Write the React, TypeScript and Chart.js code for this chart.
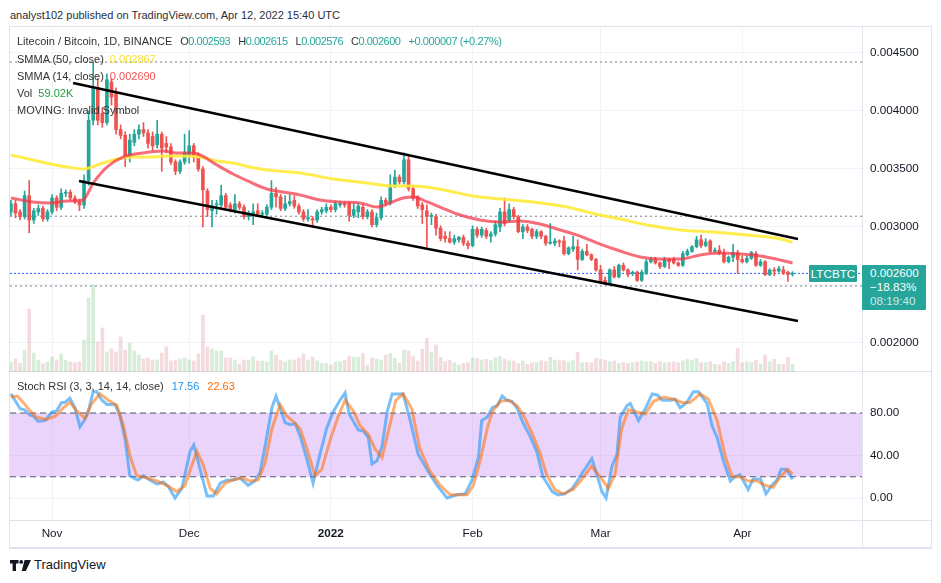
import { useEffect, useRef } from "react";
import { Chart, registerables } from "chart.js";
Chart.register(...registerables);

// ---------- axis / ticks ----------
const monthTicks = [9, 39, 70, 101, 129, 160];
const monthLabels = ["Nov", "Dec", "2022", "Feb", "Mar", "Apr"];
const priceTicks = [0.002, 0.0025, 0.003, 0.0035, 0.004, 0.0045];
const stochTicks = [0, 40, 80];
const X_MIN = -0.2;
const X_MAX = 186.2;
const PRICE_MIN = 0.00175;
const PRICE_MAX = 0.004724;
const VOL_MAX = 2657;
const STOCH_MIN = -20.7;
const STOCH_MAX = 118.6;

// ---------- candles (daily, Oct 23 2021 -> Apr 12 2022) ----------
const opens = [
  0.00313, 0.0032, 0.00313, 0.00309, 0.00327, 0.00306, 0.00313, 0.00316, 0.00307, 0.00313,
  0.00325, 0.00317, 0.00329, 0.0033, 0.00325, 0.00322, 0.00319, 0.0034, 0.00392, 0.0042,
  0.00398, 0.0039, 0.00425, 0.00415, 0.00384, 0.00379, 0.0036, 0.00373, 0.0038, 0.00384,
  0.00381, 0.00378, 0.00371, 0.0038, 0.00372, 0.00369, 0.00356, 0.00348, 0.00356, 0.00362,
  0.0037, 0.00362, 0.0035, 0.00331, 0.00314, 0.00319, 0.00319, 0.00327, 0.00319, 0.00315,
  0.0032, 0.00317, 0.00309, 0.00311, 0.00314, 0.00311, 0.00311, 0.00317, 0.00329, 0.00326,
  0.00316, 0.0032, 0.00323, 0.00318, 0.00313, 0.00307, 0.00307, 0.00306, 0.00313, 0.00314,
  0.00317, 0.00315, 0.00319, 0.0032, 0.0032, 0.0031, 0.00313, 0.00317, 0.00309, 0.00313,
  0.00302, 0.00308, 0.00323, 0.00321, 0.00336, 0.00343, 0.00339, 0.00358, 0.00333, 0.00326,
  0.00319, 0.00314, 0.00309, 0.00309, 0.00299, 0.00292, 0.0029, 0.00287, 0.00289, 0.00291,
  0.00286, 0.00284, 0.00298, 0.00293, 0.00297, 0.00292, 0.00294, 0.003, 0.00313, 0.00306,
  0.00315, 0.00309, 0.00296, 0.003, 0.00298, 0.00292, 0.00296, 0.00292, 0.00286, 0.00286,
  0.00288, 0.00288, 0.00277, 0.00281, 0.00283, 0.00272, 0.00279, 0.00276, 0.00272, 0.00263,
  0.00254, 0.00251, 0.00263, 0.00257, 0.00267, 0.00263, 0.0026, 0.00261, 0.00254, 0.0026,
  0.0027, 0.00272, 0.00269, 0.00266, 0.00272, 0.00272, 0.00269, 0.00267, 0.00276, 0.00279,
  0.00283, 0.00289, 0.00284, 0.00288, 0.00279, 0.0028, 0.00277, 0.0027, 0.00274, 0.00278,
  0.00272, 0.0027, 0.00273, 0.00277, 0.00267, 0.0027, 0.00259, 0.00263, 0.00262, 0.00263,
  0.00261, 0.002593,
];
const highs = [
  0.00323, 0.00323, 0.00315, 0.00331, 0.0034, 0.00316, 0.00319, 0.00318, 0.00315, 0.00328,
  0.00327, 0.00333, 0.00332, 0.00332, 0.00327, 0.00324, 0.00345, 0.004, 0.00442, 0.00428,
  0.00403, 0.00432, 0.00428, 0.0042, 0.00388, 0.00382, 0.0038, 0.00384, 0.00388, 0.0039,
  0.00384, 0.00382, 0.00392, 0.00382, 0.00378, 0.00372, 0.00358, 0.00358, 0.0038, 0.00383,
  0.00372, 0.00364, 0.00352, 0.00333, 0.00323, 0.00323, 0.00336, 0.00329, 0.00321, 0.00328,
  0.00322, 0.00319, 0.00314, 0.0032, 0.0032, 0.00314, 0.00319, 0.0034, 0.00334, 0.00328,
  0.00327, 0.00328, 0.00327, 0.0032, 0.00315, 0.00315, 0.00309, 0.00315, 0.00317, 0.0032,
  0.00319, 0.00322, 0.00322, 0.00322, 0.00322, 0.0032, 0.0032, 0.00319, 0.00315, 0.00315,
  0.00312, 0.00326, 0.00325, 0.00345, 0.00349, 0.00345, 0.00364, 0.00362, 0.00336, 0.00327,
  0.00321, 0.00319, 0.00312, 0.00311, 0.00301, 0.00296, 0.00296, 0.00293, 0.00292, 0.00293,
  0.00288, 0.00301, 0.003, 0.003, 0.00299, 0.00296, 0.00305, 0.00316, 0.00325, 0.0032,
  0.00317, 0.0031, 0.00302, 0.00302, 0.00299, 0.00298, 0.00297, 0.00293, 0.00303, 0.0029,
  0.00289, 0.00292, 0.00283, 0.00292, 0.00289, 0.00281, 0.00285, 0.00277, 0.00273, 0.00267,
  0.00257, 0.00264, 0.00266, 0.00268, 0.00269, 0.00264, 0.00262, 0.00262, 0.00263, 0.00272,
  0.00274, 0.00274, 0.0027, 0.00274, 0.00273, 0.00274, 0.0027, 0.00279, 0.00281, 0.00284,
  0.00292, 0.00293, 0.0029, 0.00289, 0.00282, 0.00284, 0.00281, 0.00275, 0.00285, 0.0028,
  0.00275, 0.00275, 0.00279, 0.00279, 0.00272, 0.00271, 0.00264, 0.00265, 0.00266, 0.00266,
  0.00262, 0.002615,
];
const lows = [
  0.0031, 0.00308, 0.00306, 0.00307, 0.00295, 0.00303, 0.0031, 0.00305, 0.00305, 0.00311,
  0.00314, 0.00315, 0.00326, 0.00323, 0.0032, 0.00314, 0.00316, 0.00336, 0.00388, 0.00388,
  0.00386, 0.00388, 0.00405, 0.0038, 0.00376, 0.00352, 0.00356, 0.0037, 0.00376, 0.00378,
  0.00368, 0.00366, 0.00368, 0.00348, 0.00364, 0.00354, 0.00345, 0.00346, 0.00354, 0.00355,
  0.00356, 0.00348, 0.003, 0.00309, 0.003, 0.00311, 0.00317, 0.00315, 0.00313, 0.00312,
  0.00315, 0.00307, 0.00306, 0.00302, 0.00309, 0.00309, 0.00309, 0.00315, 0.00317, 0.00314,
  0.00314, 0.00318, 0.00316, 0.00311, 0.00305, 0.00305, 0.003, 0.00304, 0.00311, 0.00312,
  0.00313, 0.00313, 0.00317, 0.00317, 0.00305, 0.00308, 0.00308, 0.00307, 0.00307, 0.003,
  0.003, 0.00306, 0.00319, 0.00319, 0.00334, 0.00337, 0.00337, 0.00331, 0.00323, 0.00316,
  0.00303, 0.00283, 0.00302, 0.00293, 0.00288, 0.00287, 0.00286, 0.00285, 0.00287, 0.00284,
  0.00281, 0.00283, 0.00291, 0.00291, 0.0029, 0.00287, 0.00292, 0.00296, 0.00301, 0.00304,
  0.00307, 0.00295, 0.0029, 0.00295, 0.0029, 0.0029, 0.0029, 0.00284, 0.00285, 0.00284,
  0.00283, 0.00276, 0.00276, 0.00279, 0.00263, 0.00271, 0.00275, 0.00271, 0.00262, 0.00251,
  0.0025, 0.0025, 0.00256, 0.00256, 0.00262, 0.00257, 0.00258, 0.00253, 0.00253, 0.00259,
  0.00269, 0.00268, 0.00264, 0.00265, 0.00264, 0.00268, 0.00266, 0.00266, 0.00275, 0.00278,
  0.00282, 0.00282, 0.00283, 0.00278, 0.00278, 0.00276, 0.00269, 0.00269, 0.0027, 0.0026,
  0.00269, 0.00269, 0.00272, 0.00266, 0.00266, 0.00258, 0.00258, 0.00258, 0.00261, 0.00259,
  0.00253, 0.002576,
];
const closes = [
  0.0032, 0.00312, 0.00309, 0.00327, 0.00306, 0.00314, 0.00316, 0.00307, 0.00313, 0.00325,
  0.00317, 0.00329, 0.0033, 0.00325, 0.00322, 0.00319, 0.0034, 0.00392, 0.0042, 0.00392,
  0.0039, 0.00427, 0.00412, 0.00384, 0.00379, 0.0036, 0.00375, 0.0038, 0.00384, 0.00381,
  0.00372, 0.0037, 0.0038, 0.00368, 0.00369, 0.00356, 0.00348, 0.00356, 0.00364, 0.0037,
  0.0036, 0.0035, 0.00332, 0.00315, 0.00318, 0.0032, 0.00327, 0.00317, 0.00315, 0.0032,
  0.00317, 0.00309, 0.00312, 0.00313, 0.00311, 0.00312, 0.00317, 0.00329, 0.00326, 0.00316,
  0.0032, 0.00322, 0.00318, 0.00313, 0.00307, 0.00308, 0.00306, 0.00313, 0.00315, 0.00317,
  0.00315, 0.0032, 0.0032, 0.00319, 0.0031, 0.00315, 0.00318, 0.00309, 0.00313, 0.00302,
  0.00308, 0.00323, 0.00321, 0.00336, 0.00343, 0.00339, 0.00358, 0.00333, 0.00325, 0.00318,
  0.00315, 0.00309, 0.0031, 0.00299, 0.0029, 0.0029, 0.00287, 0.0029, 0.00291, 0.00286,
  0.00284, 0.00298, 0.00293, 0.00298, 0.00292, 0.00294, 0.00302, 0.00313, 0.00303, 0.00315,
  0.00309, 0.00296, 0.003, 0.00297, 0.00292, 0.00296, 0.00292, 0.00286, 0.00287, 0.00288,
  0.00287, 0.00277, 0.00282, 0.00283, 0.00272, 0.00279, 0.00276, 0.00272, 0.00263, 0.00253,
  0.00251, 0.00263, 0.00257, 0.00267, 0.00263, 0.00259, 0.00261, 0.00254, 0.00261, 0.0027,
  0.00272, 0.00269, 0.00266, 0.00272, 0.0027, 0.00269, 0.00267, 0.00277, 0.00279, 0.00283,
  0.00289, 0.00284, 0.00287, 0.00279, 0.0028, 0.00277, 0.0027, 0.00274, 0.00278, 0.00272,
  0.0027, 0.00273, 0.00278, 0.00267, 0.0027, 0.00259, 0.00263, 0.00262, 0.00264, 0.0026,
  0.00259, 0.0026,
];
// volume in thousands
const volumes = [
  77, 100, 69, 169, 485, 146, 92, 62, 77, 116,
  92, 139, 92, 77, 69, 77, 246, 570, 670, 231,
  339, 154, 177, 154, 270, 169, 223, 162, 131, 100,
  108, 92, 92, 146, 193, 85, 92, 100, 108, 92,
  85, 139, 439, 193, 177, 162, 162, 108, 108, 92,
  62, 92, 92, 116, 85, 85, 77, 162, 131, 92,
  77, 92, 92, 108, 139, 92, 116, 85, 67, 67,
  54, 75, 80, 92, 123, 113, 113, 144, 54, 108,
  100, 92, 131, 144, 105, 67, 169, 162, 118, 85,
  175, 259, 152, 208, 113, 80, 92, 72, 54, 67,
  72, 108, 103, 92, 98, 87, 110, 118, 98, 85,
  85, 67, 85, 59, 72, 72, 87, 80, 113, 92,
  87, 87, 77, 87, 152, 72, 72, 72, 105, 98,
  92, 80, 85, 67, 72, 67, 72, 80, 85, 80,
  80, 67, 80, 72, 72, 80, 72, 85, 98, 92,
  105, 72, 72, 80, 59, 54, 80, 67, 80, 182,
  72, 80, 72, 92, 62, 131, 80, 98, 62, 59,
  113, 59.02,
];

// ---------- indicator lines as [day index, value] ----------
const smma50 = [
  [0, 0.003621], [4.8, 0.003578], [8.6, 0.003543], [12.3, 0.003517], [15.8, 0.0035],
  [19.5, 0.003543], [23.2, 0.003586], [26.7, 0.003603], [30.4, 0.003603], [34.2, 0.003612],
  [37.7, 0.003612], [41.4, 0.003603], [45.1, 0.003569], [48.6, 0.003552], [52.3, 0.003517],
  [56, 0.003491], [63.3, 0.003466], [70.5, 0.003414], [77.9, 0.003379], [83.6, 0.003353],
  [88, 0.003353], [92.4, 0.003336], [96.7, 0.003302], [101.1, 0.003267], [107, 0.003241],
  [114.2, 0.003216], [121.7, 0.003172], [128.9, 0.003103], [133.3, 0.003069], [139.2, 0.003017],
  [146.4, 0.002974], [153.6, 0.002957], [161.1, 0.002931], [168.3, 0.002897], [171, 0.002867],
];
const smma14 = [
  [0, 0.00325], [4.8, 0.003216], [8.6, 0.003207], [12.3, 0.003224], [15.8, 0.003233],
  [18, 0.003379], [21, 0.003517], [24.5, 0.003603], [28.9, 0.003638], [33.3, 0.003655],
  [36.3, 0.003638], [39.8, 0.003638], [41.4, 0.003621], [45.1, 0.003534], [48.6, 0.003457],
  [52.3, 0.003388], [56, 0.003328], [59.5, 0.003302], [63.3, 0.003276], [67.6, 0.003233],
  [72, 0.003216], [76.4, 0.003207], [80.1, 0.003172], [82.9, 0.003207], [85.8, 0.00325],
  [88, 0.003259], [91.1, 0.003216], [93.9, 0.003172], [98.3, 0.003103], [102.6, 0.00306],
  [107, 0.003043], [111.4, 0.003052], [115.8, 0.003026], [120.2, 0.002974], [124.5, 0.002922],
  [128.9, 0.002853], [133.3, 0.002793], [137.7, 0.002741], [142, 0.002724], [146.4, 0.002724],
  [150.8, 0.002759], [155.2, 0.002776], [159.5, 0.002767], [163.9, 0.00275], [168.3, 0.002716],
  [171, 0.00269],
];
const upperChannel = [[13.6, 0.004241], [172.2, 0.002897]];
const lowerChannel = [[14.9, 0.003397], [172.2, 0.00219]];
const refLevels = [0.004422, 0.003093, 0.002491];
const lastPrice = 0.0026;

const stochK = [
  [0, 98], [0.9, 92], [2, 84], [3, 83], [4.2, 78], [4.9, 77], [6, 72], [7.5, 73], [9, 81], [10, 82],
  [11.1, 90], [11.8, 90], [12.9, 94], [14, 85], [15.1, 67], [16.2, 74], [16.9, 81], [18, 100], [18.8, 100], [19.9, 92],
  [21, 88], [22.8, 88], [23.9, 77], [25, 55], [26, 21], [27.2, 18], [27.8, 17], [29, 21], [30.4, 17], [32, 13],
  [33.3, 15], [34.4, 11], [35.9, 0], [37.4, 9], [39.2, 44], [40, 50], [41.4, 27], [42.9, 2], [44.3, 2], [45.8, 14],
  [47.3, 17], [48.6, 17], [50.1, 19], [51.9, 12], [53.4, 16], [54.5, 24], [56, 58], [57.1, 85], [58, 96], [59.1, 82],
  [60, 71], [61.1, 69], [62.2, 70], [63.3, 58], [64.8, 36], [66.1, 14], [67.6, 41], [69.1, 66], [70.5, 81], [72, 92],
  [73.1, 99], [74, 79], [76, 64], [77.1, 63], [78.2, 57], [79, 32], [80.1, 35], [81.2, 49], [82.3, 81], [83.4, 98],
  [84.7, 98], [85.8, 98], [87.3, 74], [89.1, 41], [91.3, 25], [93.2, 12], [95.4, 0], [97.6, 3], [99.4, 4], [100.9, 17],
  [102.3, 39], [103, 73], [104.2, 76], [105.3, 85], [106.4, 87], [107.5, 96], [108.5, 92], [109.6, 91], [110.7, 85], [112, 71],
  [113.6, 58], [115.1, 43], [116.4, 20], [118.4, 6], [119.7, 3], [121.2, 4], [122.8, 9], [123.9, 16], [125.2, 25], [127.1, 37],
  [128.2, 22], [129.3, 6], [130.2, 0], [131.5, 30], [132.6, 41], [133.3, 76], [134.8, 87], [135.5, 89], [137.3, 73], [138.8, 84],
  [140.3, 98], [141.4, 97], [142.5, 92], [144.2, 92], [145.3, 93], [146.4, 85], [147.9, 90], [149.3, 100], [150.4, 100], [152.3, 89],
  [153.4, 68], [154.5, 57], [155.8, 36], [157.4, 16], [158.4, 20], [159.5, 22], [161.3, 8], [162.4, 18], [164, 18], [165.2, 4],
  [166.5, 12], [167.6, 17], [168.5, 27], [169.4, 27], [170, 25], [171, 17.56],
];
const stochD = [
  [0, 95], [1.4, 96], [2.7, 90], [4.2, 82], [5.6, 76], [7.8, 74], [9.7, 77], [11.5, 85], [12.9, 90], [14.4, 82],
  [16.2, 75], [17.7, 89], [19.5, 98], [21.3, 92], [23.2, 87], [24.6, 68], [26.1, 39], [27.5, 21], [29.7, 19], [31.9, 16],
  [34.1, 12], [36.3, 6], [38.1, 12], [39.6, 31], [40.7, 44], [42.1, 31], [43.6, 9], [45, 4], [46.9, 14], [48.6, 17],
  [50.5, 19], [52.3, 16], [54.1, 17], [55.6, 33], [57.1, 65], [58.9, 88], [60.4, 77], [61.8, 72], [63.3, 65], [64.8, 46],
  [66.5, 21], [68, 27], [69.8, 54], [71.6, 77], [73.1, 92], [74.9, 82], [76.4, 68], [78.2, 60], [79.7, 46], [81.2, 38],
  [82.7, 65], [84.2, 92], [85.8, 98], [87.7, 84], [89.5, 46], [91.7, 25], [93.9, 12], [96.1, 3], [98.3, 3], [99.8, 3],
  [101.2, 12], [102.7, 36], [104.2, 65], [105.3, 81], [107.1, 91], [108.9, 92], [110.7, 87], [112, 79], [113.9, 62], [115.7, 43],
  [117.2, 22], [119, 8], [120.8, 4], [123, 8], [124.8, 17], [127, 30], [128.9, 20], [130.7, 9], [132.2, 23], [133.6, 65],
  [135.1, 83], [136.9, 81], [138.8, 79], [140.6, 91], [142.8, 95], [145, 93], [146.8, 90], [148.6, 90], [150.8, 98], [152.6, 93],
  [154.5, 73], [156.3, 39], [157.8, 20], [159.5, 20], [161.3, 16], [163.2, 16], [165, 12], [166.8, 10], [168.3, 20], [170, 27],
  [171, 22.63],
];
const bandTop = 80;
const bandBottom = 20;

// ---------- styles ----------
const FONT = '"Liberation Sans", Arial, sans-serif';
const GREEN = "#26a69a";
const RED = "#ef5350";
const VOL_G = "rgba(76,175,80,0.22)";
const VOL_R = "rgba(210,110,115,0.24)";
const GRID = "#f0f3fa";
const TEXT = "#131722";
const SEP = "#e0e3eb";

const pts = (arr: number[][]) => arr.map(([x, y]) => ({ x, y }));
const hline = (v: number) => [{ x: X_MIN, y: v }, { x: X_MAX, y: v }];

export default function App() {
  const mainRef = useRef<HTMLCanvasElement>(null);
  const stochRef = useRef<HTMLCanvasElement>(null);

  useEffect(() => {
    const candleColors = closes.map((c, i) => (c >= opens[i] ? GREEN : RED));
    const volColors = closes.map((c, i) => (c >= opens[i] ? VOL_G : VOL_R));
    const xScaleBase: any = {
      type: "linear",
      min: X_MIN,
      max: X_MAX,
      offset: false,
      grid: { color: GRID, drawTicks: false, offset: false },
      border: { display: false },
      afterBuildTicks: (s: any) => {
        s.ticks = monthTicks.map((v) => ({ value: v }));
      },
    };

    const main = new Chart(mainRef.current!, {
      type: "bar",
      data: {
        datasets: [
          {
            type: "bar",
            data: volumes.map((v, i) => ({ x: i, y: v })),
            yAxisID: "yVol",
            backgroundColor: volColors,
            barThickness: 3,
            grouped: false,
            order: 20,
          } as any,
          ...refLevels.map((v) => ({
            type: "line",
            data: hline(v),
            borderColor: "#787b86",
            borderWidth: 1,
            borderDash: [2, 3],
            pointRadius: 0,
            order: 15,
          })),
          {
            type: "line",
            data: hline(lastPrice),
            borderColor: "#2962ff",
            borderWidth: 1,
            borderDash: [2, 2],
            pointRadius: 0,
            order: 14,
          },
          {
            type: "bar",
            data: lows.map((l, i) => ({ x: i, y: [l, highs[i]] })),
            backgroundColor: candleColors,
            barThickness: 1,
            grouped: false,
            order: 10,
          },
          {
            type: "bar",
            data: opens.map((o, i) => ({ x: i, y: [o, closes[i]] })),
            backgroundColor: candleColors,
            barThickness: 3,
            minBarLength: 1,
            grouped: false,
            order: 9,
          },
          {
            type: "line",
            data: pts(smma50),
            borderColor: "rgba(255,235,59,0.9)",
            borderWidth: 3,
            pointRadius: 0,
            cubicInterpolationMode: "monotone",
            order: 5,
          },
          {
            type: "line",
            data: pts(smma14),
            borderColor: "rgba(242,54,69,0.72)",
            borderWidth: 3,
            pointRadius: 0,
            cubicInterpolationMode: "monotone",
            order: 4,
          },
          {
            type: "line",
            data: pts(upperChannel),
            borderColor: "#000",
            borderWidth: 2.5,
            pointRadius: 0,
            order: 1,
          },
          {
            type: "line",
            data: pts(lowerChannel),
            borderColor: "#000",
            borderWidth: 2.5,
            pointRadius: 0,
            order: 1,
          },
        ] as any,
      },
      options: {
        animation: false,
        responsive: false,
        maintainAspectRatio: false,
        events: [],
        layout: { padding: 0 },
        plugins: { legend: { display: false }, tooltip: { enabled: false } },
        scales: {
          x: {
            ...xScaleBase,
            ticks: { display: false },
            afterFit: (s: any) => {
              s.height = 0;
              s.paddingLeft = 0;
              s.paddingRight = 0;
            },
          },
          y: {
            type: "linear",
            position: "right",
            min: PRICE_MIN,
            max: PRICE_MAX,
            grid: { color: GRID, drawTicks: false },
            border: { display: false },
            ticks: {
              padding: 8,
              color: TEXT,
              font: { family: FONT, size: 11.7 },
              callback: (v: any) => Number(v).toFixed(6),
            },
            afterBuildTicks: (s: any) => {
              s.ticks = priceTicks.map((v) => ({ value: v }));
            },
            afterFit: (s: any) => {
              s.width = 69;
              s.paddingTop = 0;
              s.paddingBottom = 0;
            },
          },
          yVol: {
            type: "linear",
            display: false,
            min: 0,
            max: VOL_MAX,
          },
        } as any,
      },
    });

    const stoch = new Chart(stochRef.current!, {
      type: "line",
      data: {
        datasets: [
          {
            data: hline(bandTop),
            borderColor: "#555a66",
            borderWidth: 1,
            borderDash: [6, 4],
            pointRadius: 0,
            fill: { target: { value: bandBottom } },
            backgroundColor: "rgba(155,39,240,0.2)",
            order: 10,
          },
          {
            data: hline(bandBottom),
            borderColor: "#555a66",
            borderWidth: 1,
            borderDash: [6, 4],
            pointRadius: 0,
            fill: false,
            order: 9,
          },
          {
            data: pts(stochK),
            borderColor: "rgba(33,150,243,0.6)",
            borderWidth: 3,
            pointRadius: 0,
            fill: false,
            order: 2,
          },
          {
            data: pts(stochD),
            borderColor: "rgba(255,109,0,0.55)",
            borderWidth: 3,
            pointRadius: 0,
            fill: false,
            order: 1,
          },
        ] as any,
      },
      options: {
        animation: false,
        responsive: false,
        maintainAspectRatio: false,
        events: [],
        layout: { padding: 0 },
        plugins: { legend: { display: false }, tooltip: { enabled: false } },
        scales: {
          x: {
            ...xScaleBase,
            ticks: {
              padding: 7,
              color: TEXT,
              maxRotation: 0,
              autoSkip: false,
              font: (ctx: any) => ({
                family: FONT,
                size: 11.7,
                weight: ctx.tick && ctx.tick.value === 70 ? "bold" : "normal",
              }),
              callback: (v: any) => {
                const k = monthTicks.indexOf(Number(v));
                return k >= 0 ? monthLabels[k] : "";
              },
            },
            afterFit: (s: any) => {
              s.height = 28;
              s.paddingLeft = 0;
              s.paddingRight = 0;
            },
          },
          y: {
            type: "linear",
            position: "right",
            min: STOCH_MIN,
            max: STOCH_MAX,
            grid: { color: GRID, drawTicks: false },
            border: { display: false },
            ticks: {
              padding: 8,
              color: TEXT,
              font: { family: FONT, size: 11.7 },
              callback: (v: any) => Number(v).toFixed(2),
            },
            afterBuildTicks: (s: any) => {
              s.ticks = stochTicks.map((v) => ({ value: v }));
            },
            afterFit: (s: any) => {
              s.width = 69;
              s.paddingTop = 0;
              s.paddingBottom = 0;
            },
          },
        } as any,
      },
    });

    return () => {
      main.destroy();
      stoch.destroy();
    };
  }, []);

  const row = (top: number, children: any) => (
    <div
      style={{
        position: "absolute",
        left: 17,
        top,
        fontSize: 11,
        lineHeight: "14px",
        color: "#333",
        whiteSpace: "nowrap",
      }}
    >
      {children}
    </div>
  );
  const item = (label: string, value: string) => (
    <span style={{ marginLeft: 8, letterSpacing: -0.5 }}>
      {label}
      <span style={{ color: GREEN }}>{value}</span>
    </span>
  );

  return (
    <div
      style={{
        position: "absolute",
        left: 0,
        top: 0,
        width: 941,
        height: 583,
        background: "#fff",
        fontFamily: FONT,
        overflow: "hidden",
      }}
    >
      <div
        style={{
          position: "absolute",
          left: 10,
          top: 8,
          fontSize: 11,
          lineHeight: "14px",
          color: "#2a2e39",
          whiteSpace: "nowrap",
        }}
      >
        analyst102 published on TradingView.com, Apr 12, 2022 15:40 UTC
      </div>
      {/* frame + separators */}
      <div
        style={{
          position: "absolute",
          left: 9,
          top: 26,
          width: 923,
          height: 523,
          boxSizing: "border-box",
          border: "1px solid " + SEP,
          borderBottomWidth: 2,
        }}
      />
      <div style={{ position: "absolute", left: 10, top: 371, width: 921, height: 1, background: SEP }} />
      <div style={{ position: "absolute", left: 10, top: 520, width: 921, height: 1, background: SEP }} />
      <div style={{ position: "absolute", left: 862, top: 27, width: 1, height: 521, background: SEP }} />

      <canvas
        ref={mainRef}
        width={921}
        height={345}
        style={{ position: "absolute", left: 10, top: 27, width: 921, height: 345 }}
      />
      <canvas
        ref={stochRef}
        width={921}
        height={176}
        style={{ position: "absolute", left: 10, top: 372, width: 921, height: 176 }}
      />

      {row(34, (
        <>
          <span>Litecoin / Bitcoin, 1D, BINANCE</span>
          {item("O", "0.002593")}
          {item("H", "0.002615")}
          {item("L", "0.002576")}
          {item("C", "0.002600")}
          <span style={{ marginLeft: 8, color: GREEN, letterSpacing: -0.4 }}>+0.000007 (+0.27%)</span>
        </>
      ))}
      {row(52, (
        <>
          SMMA (50, close) <span style={{ color: "#f5e22e", marginLeft: 3 }}>0.002867</span>
        </>
      ))}
      {row(69, (
        <>
          SMMA (14, close) <span style={{ color: "#f05454", marginLeft: 3 }}>0.002690</span>
        </>
      ))}
      {row(86, (
        <>
          Vol <span style={{ color: "#1f9d3f", marginLeft: 3 }}>59.02K</span>
        </>
      ))}
      {row(103, <>MOVING: Invalid Symbol</>)}
      {row(379, (
        <>
          Stoch RSI (3, 3, 14, 14, close)
          <span style={{ color: "#2196f3", marginLeft: 8 }}>17.56</span>
          <span style={{ color: "#ff6d00", marginLeft: 8 }}>22.63</span>
        </>
      ))}

      {/* last-price tags */}
      <div
        style={{
          position: "absolute",
          left: 809,
          top: 265,
          width: 48,
          height: 17,
          background: GREEN,
          color: "#fff",
          fontSize: 11.7,
          lineHeight: "17px",
          textAlign: "center",
          borderRadius: 1,
        }}
      >
        LTCBTC
      </div>
      <div
        style={{
          position: "absolute",
          left: 862,
          top: 265,
          width: 64,
          height: 45,
          background: GREEN,
          color: "#fff",
          fontSize: 11.7,
          lineHeight: "14px",
          paddingLeft: 8,
          paddingTop: 1,
          boxSizing: "border-box",
          borderRadius: 1,
        }}
      >
        <div>0.002600</div>
        <div>−18.83%</div>
        <div style={{ color: "rgba(255,255,255,0.78)" }}>08:19:40</div>
      </div>

      {/* footer logo */}
      <div style={{ position: "absolute", left: 10, top: 558, display: "flex", alignItems: "center" }}>
        <svg width="21" height="11" viewBox="0 0 21 11">
          <path d="M0 0h8.5v3.6H6v7.4H2.6V3.6H0z" fill="#131722" />
          <circle cx="11.2" cy="1.9" r="1.9" fill="#131722" />
          <path d="M14.6 0h6.4l-5.2 11h-4.1z" fill="#131722" />
        </svg>
        <span style={{ marginLeft: 3, fontSize: 13, color: "#131722", lineHeight: "14px" }}>TradingView</span>
      </div>
    </div>
  );
}
